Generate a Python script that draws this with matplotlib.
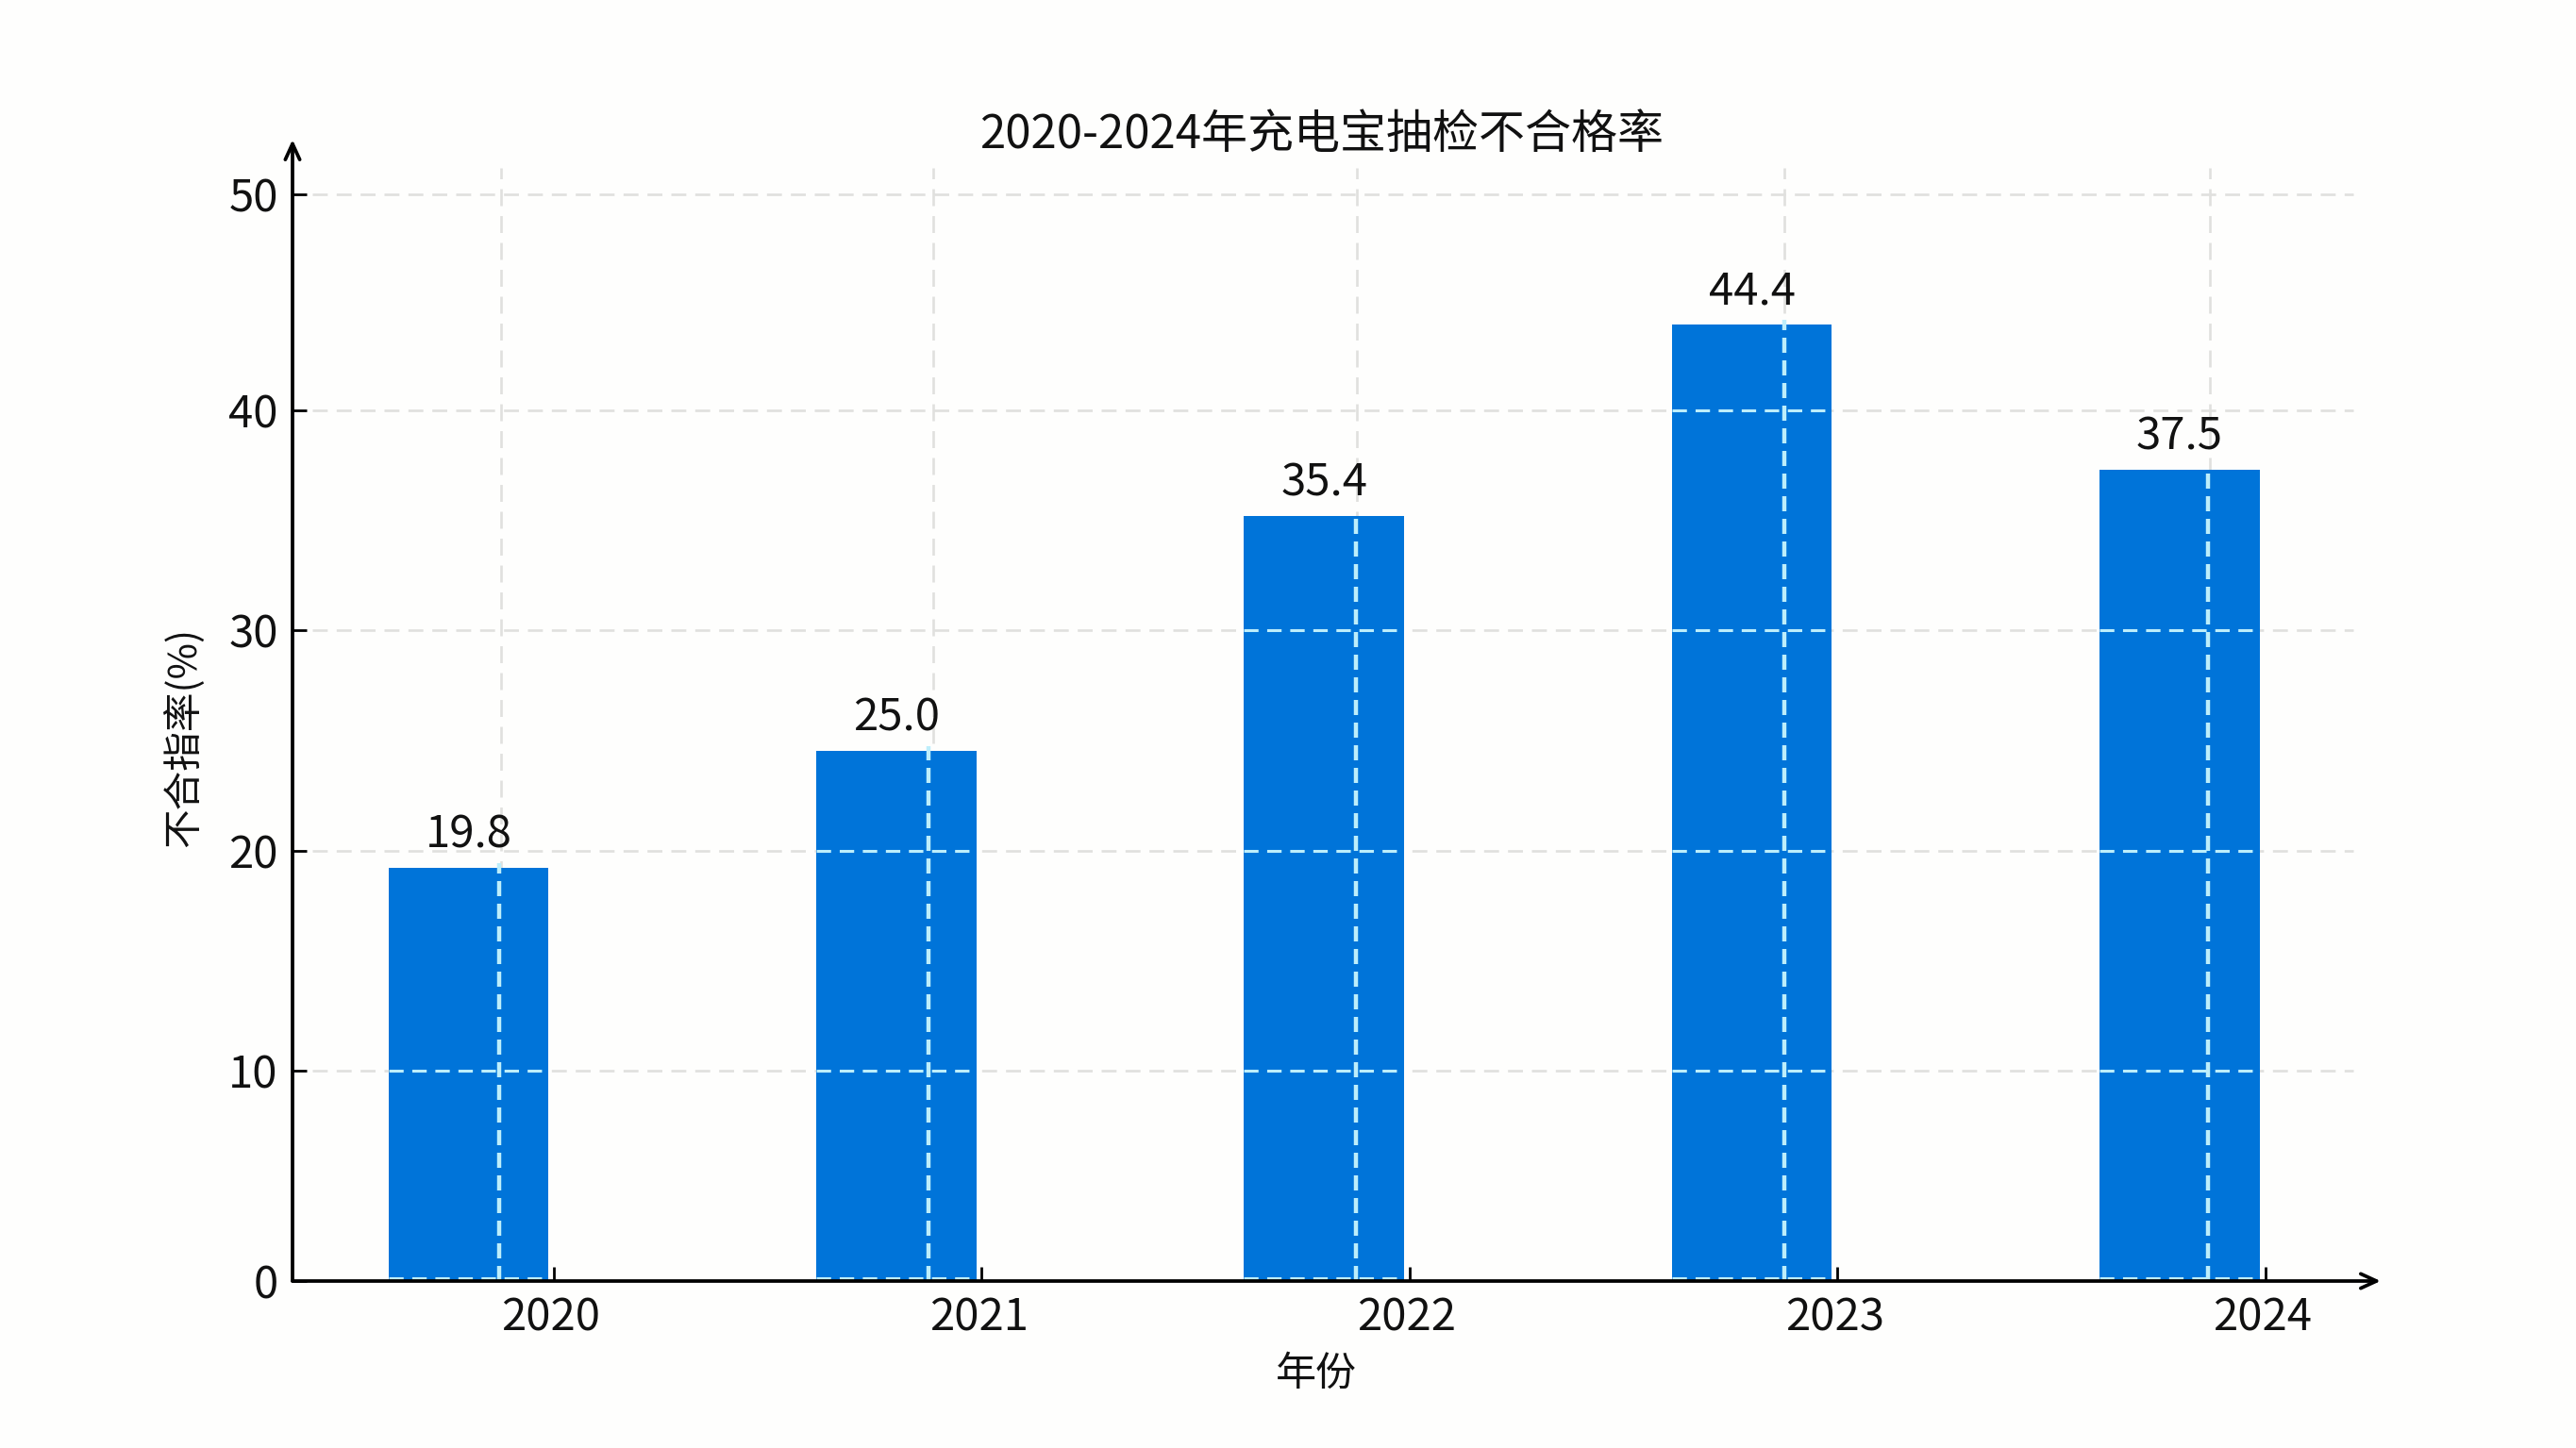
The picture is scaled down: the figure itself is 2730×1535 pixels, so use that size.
import matplotlib
matplotlib.use('Agg')
import matplotlib.pyplot as plt
from matplotlib.transforms import ScaledTranslation
import numpy as np

plt.rcParams['font.family'] = ['Noto Sans CJK SC', 'DejaVu Sans']

years = ['2020', '2021', '2022', '2023', '2024']
# drawn bar heights differ a little from the printed labels in the source picture
bar_heights = [19.0, 24.4, 35.2, 44.0, 37.3]
bar_labels = ['19.8', '25.0', '35.4', '44.4', '37.5']
y_ticks = [0, 10, 20, 30, 40, 50]
# the source axis is not quite even, these are where its ticks really sit
y_tick_pos = [0, 9.67, 19.8, 29.95, 40.05, 50]

W, H = 2730, 1535
fig = plt.figure(figsize=(W / 100, H / 100), dpi=100, facecolor='#fefefd')

# axes box in pixels
left, right, top, bottom = 310, 2523, 148, 1358
ax = fig.add_axes([left / W, 1 - bottom / H, (right - left) / W, (bottom - top) / H])
ax.set_facecolor('none')

x = np.arange(len(years))
bar_w = 0.374
ax.set_xlim(-0.411, 4.47)
ax.set_ylim(0, 52.5)

# vertical grid is slightly off between the part above the bars and the part on them
grid_x = x + np.array([0.077, 0.087, 0.078, 0.076, 0.070])
grid_x_bar = x + np.array([0.073, 0.075, 0.074, 0.076, 0.067])
grey = '#e0e0de'
light = '#bdeefb'

# grid behind the bars
ax.hlines(y_tick_pos[1:], -0.365, 4.405, colors=grey, lw=1.9, linestyles=(0, (6, 3.6)), zorder=1)
ax.vlines(grid_x, 0, 51.2, colors=grey, lw=1.9, linestyles=(0, (6.8, 4)), zorder=1)

ax.bar(x, bar_heights, width=bar_w, color='#0074d9', zorder=2)

# grid again, lighter, on top of the bars
for xi, h, gx in zip(x, bar_heights, grid_x_bar):
    for yt in y_tick_pos:
        if yt < h:
            ax.hlines(yt + (0.12 if yt == 0 else 0), xi - bar_w / 2, xi + bar_w / 2, colors=light,
                      lw=2.2, linestyles=(0, (5, 3)), zorder=3)
    ax.vlines(gx, 0, h + 0.2, colors=light, lw=3.2, linestyles=(0, (3.6, 1.8)), zorder=3)

for xi, h, lab in zip(x, bar_heights, bar_labels):
    ax.text(xi, h + 0.45, lab, ha='center', va='bottom', fontsize=34, color='#111111', zorder=4)

for s in ['top', 'right', 'left', 'bottom']:
    ax.spines[s].set_visible(False)

ax.set_yticks(y_tick_pos)
ax.set_yticklabels(y_ticks)
ax.set_xticks(x + 0.2)
ax.set_xticklabels(years)
ax.tick_params(axis='both', direction='in', length=11, width=2, color='black',
               labelsize=34, labelcolor='#111111')
ax.tick_params(axis='x', pad=11)
ax.tick_params(axis='y', pad=11)

# year labels sit a little left of their ticks
shift = ScaledTranslation(-3 / 100, 0, fig.dpi_scale_trans)
for lab in ax.get_xticklabels():
    lab.set_transform(lab.get_transform() + shift)

# axis lines with arrow heads
arrow = dict(arrowstyle='->,head_length=1.2,head_width=0.55', lw=2.7, color='black',
             shrinkA=0, shrinkB=0)
ax.annotate('', xy=(1, 0), xytext=(0, 0), xycoords='axes fraction', arrowprops=arrow, zorder=5)
ax.annotate('', xy=(0, 1), xytext=(0, 0), xycoords='axes fraction', arrowprops=arrow, zorder=5)

fig.text(1401 / W, 1 - 143 / H, '2020-2024年充电宝抽检不合格率', ha='center', va='center',
         fontsize=35.3, color='#111111')
fig.text(1395 / W, 1 - 1457 / H, '年份', ha='center', va='center', fontsize=31, color='#111111')
fig.text(195 / W, 1 - 781 / H, '不合指率(%)', ha='center', va='center', rotation=90,
         fontsize=30, color='#111111')

fig.savefig('out.png', dpi=100, facecolor=fig.get_facecolor())
